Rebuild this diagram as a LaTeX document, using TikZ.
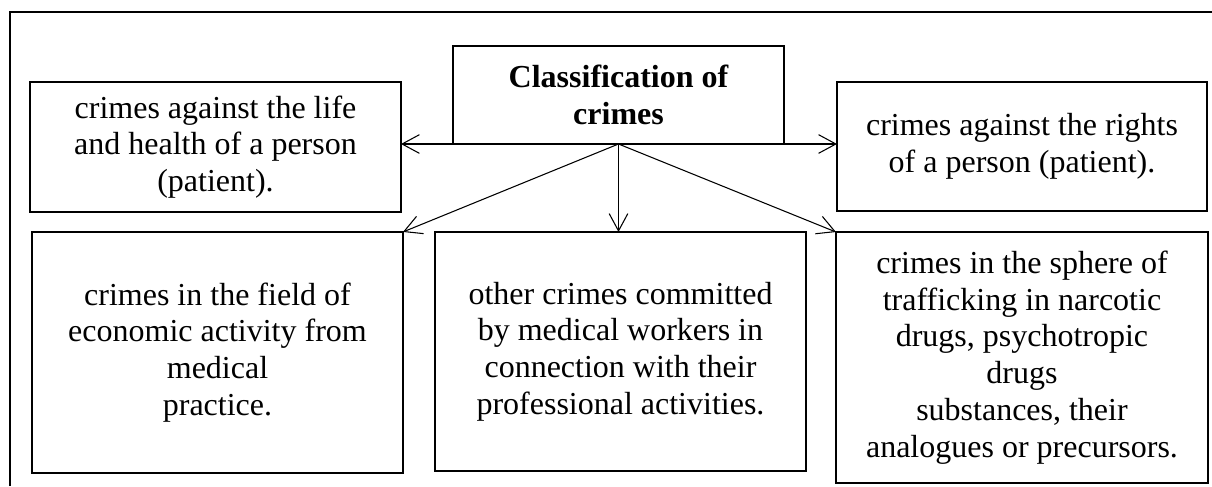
\documentclass[tikz,border=0pt]{standalone}
\usepackage{fontspec}
\setmainfont{Liberation Serif}
\usetikzlibrary{arrows.meta}

\begin{document}
\begin{tikzpicture}[x=0.375pt,y=-0.375pt,
    font=\fontsize{12pt}{13.8pt}\selectfont,
    caixa/.style={draw, line width=0.75pt, align=center, inner sep=2pt, outer sep=0pt},
    seta/.style={line width=0.4pt, -{Straight Barb[length=6.5pt,width=7pt]}}]
    \useasboundingbox (0,0) rectangle (1212,486);

    % moldura
    \coordinate (fbase) at (10,486);
    \coordinate (ftopo) at (1212,12);
    \draw[line width=0.75pt] (fbase) |- (ftopo);

    % classificacao
    \node[caixa, minimum width=124.1pt, minimum height=36.75pt] (titulo) at (618.5,95)
      {\bfseries Classification of\\ \bfseries crimes};

    % linha de cima
    \node[caixa, minimum width=139.1pt, minimum height=48.75pt] (vida) at (215.5,147)
      {crimes against the life\\ and health of a person\\ (patient).};
    \node[caixa, minimum width=138.75pt, minimum height=48.4pt] (direitos) at (1022,146.5)
      {crimes against the rights\\ of a person (patient).};

    % linha de baixo
    \node[caixa, minimum width=139.1pt, minimum height=90.4pt] (economia) at (217.5,352.5)
      {crimes in the field of\\ economic activity from\\ medical\\ practice.};
    \node[caixa, minimum width=139.1pt, minimum height=89.6pt] (outros) at (620.5,351.5)
      {other crimes committed\\ by medical workers in\\ connection with their\\ professional activities.};
    \node[caixa, minimum width=139.5pt, minimum height=94.1pt] (drogas) at (1022,357.5)
      {crimes in the sphere of\\ trafficking in narcotic\\ drugs, psychotropic\\ drugs\\ substances, their\\ analogues or precursors.};

    % setas
    \draw[seta] (titulo.south west) -- (titulo.south west -| vida.east);
    \draw[seta] (titulo.south east) -- (titulo.south east -| direitos.west);
    \draw[seta] (titulo.south) -- (economia.north east);
    \draw[seta] (titulo.south) -- (titulo.south |- outros.north);
    \draw[seta] (titulo.south) -- (drogas.north west);
  \end{tikzpicture}
\end{document}
